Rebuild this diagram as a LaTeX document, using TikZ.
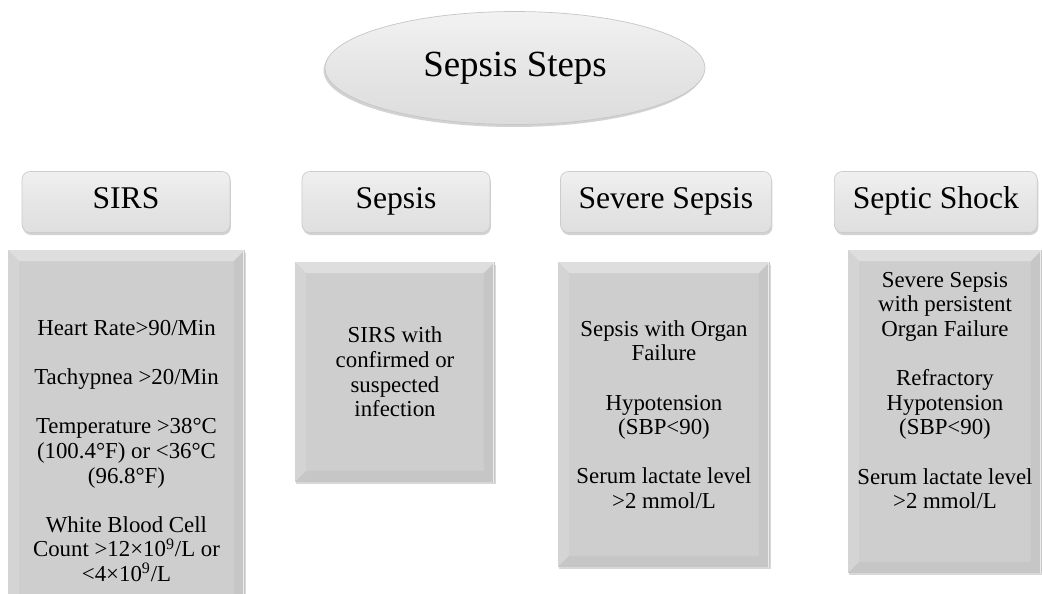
\documentclass[tikz,border=0pt]{standalone}
\usepackage{fontspec}
\setmainfont{Liberation Serif}
\usetikzlibrary{shapes.geometric,shadows}

\definecolor{boxgray}{HTML}{CECECE}
\definecolor{bevlight}{HTML}{DEDEDE}
\definecolor{bevside}{HTML}{D4D4D4}
\definecolor{bevdark}{HTML}{C6C6C6}

\begin{document}
\begin{tikzpicture}[x=0.02cm,y=-0.02cm,node distance=5.4cm,
  title node/.style={ellipse,draw=gray!45,line width=0.4pt,top color=gray!10,bottom color=gray!27,middle color=gray!20,
    minimum width=7.6cm,minimum height=2.26cm,font=\fontsize{21}{25}\selectfont,
    drop shadow={shadow xshift=-0.03cm,shadow yshift=-0.05cm,opacity=0.35,fill=gray}},
  head node/.style={rectangle,rounded corners=0.16cm,draw=gray!40,line width=0.4pt,top color=gray!12,bottom color=gray!25,
    middle color=gray!20,minimum height=1.22cm,inner sep=0pt,text height=0.9em,text depth=0.2em,
    font=\fontsize{18}{21}\selectfont,
    drop shadow={shadow xshift=0.02cm,shadow yshift=-0.05cm,opacity=0.35,fill=gray}},
  body node/.style={rectangle,fill=boxgray,align=center,inner sep=0pt,font=\fontsize{13}{14}\selectfont,
    drop shadow={shadow xshift=0.02cm,shadow yshift=-0.05cm,opacity=0.3,fill=gray},
    path picture={
      \coordinate (bnw) at (path picture bounding box.north west);
      \coordinate (bne) at (path picture bounding box.north east);
      \coordinate (bsw) at (path picture bounding box.south west);
      \coordinate (bse) at (path picture bounding box.south east);
      \fill[bevlight] (bnw) -- (bne) -- ([xshift=-0.22cm,yshift=-0.22cm]bne) -- ([xshift=0.22cm,yshift=-0.22cm]bnw) -- cycle;
      \fill[bevside] (bnw) -- (bsw) -- ([xshift=0.22cm,yshift=0.22cm]bsw) -- ([xshift=0.22cm,yshift=-0.22cm]bnw) -- cycle;
      \fill[bevdark] (bne) -- (bse) -- ([xshift=-0.22cm,yshift=0.22cm]bse) -- ([xshift=-0.22cm,yshift=-0.22cm]bne) -- cycle;
      \fill[bevdark] (bsw) -- (bse) -- ([xshift=-0.22cm,yshift=0.22cm]bse) -- ([xshift=0.22cm,yshift=0.22cm]bsw) -- cycle;
      \draw[white!85!gray,line width=0.8pt] ([xshift=-0.03cm]bne) -- ([xshift=-0.03cm]bse);
    }}]

  \fill[white] (0,0) rectangle (1042,593);
  \useasboundingbox (0,0) rectangle (1042,593);

  % title
  \node[title node] (steps) at (515,68) {Sepsis Steps};

  % stage headers
  \node[head node,minimum width=4.16cm] (sirs) at (126,202) {SIRS};
  \node[head node,minimum width=3.76cm] (sepsis) [right of=sirs] {Sepsis};
  \node[head node,minimum width=4.22cm] (severe) [right of=sepsis] {Severe Sepsis};
  \node[head node,minimum width=4.06cm] (shock) [right of=severe] {Septic Shock};

  % criteria boxes
  \node[body node,minimum width=4.74cm,minimum height=8.04cm] (sirsbox) at (126.5,451)
    {Heart Rate>90/Min\\[14pt]
     Tachypnea >20/Min\\[14pt]
     Temperature >38°C\\(100.4°F) or <36°C\\(96.8°F)\\[14pt]
     White Blood Cell\\Count >12×10\textsuperscript{9}/L or\\<4×10\textsuperscript{9}/L};
  \node[body node,minimum width=4.0cm,minimum height=4.4cm] (sepsisbox) at (395,372)
    {SIRS with\\confirmed or\\suspected\\infection};
  \node[body node,minimum width=4.24cm,minimum height=6.1cm] (severebox) at (664,414.5)
    {Sepsis with Organ\\Failure\\[14pt]
     Hypotension\\(SBP<90)\\[14pt]
     Serum lactate level\\>2 mmol/L};
  \node[body node,minimum width=3.88cm,minimum height=6.46cm] (shockbox) at (945,411.5)
    {Severe Sepsis\\with persistent\\Organ Failure\\[14pt]
     Refractory\\Hypotension\\(SBP<90)\\[14pt]
     Serum lactate level\\>2 mmol/L\\[10pt]};

\end{tikzpicture}
\end{document}
